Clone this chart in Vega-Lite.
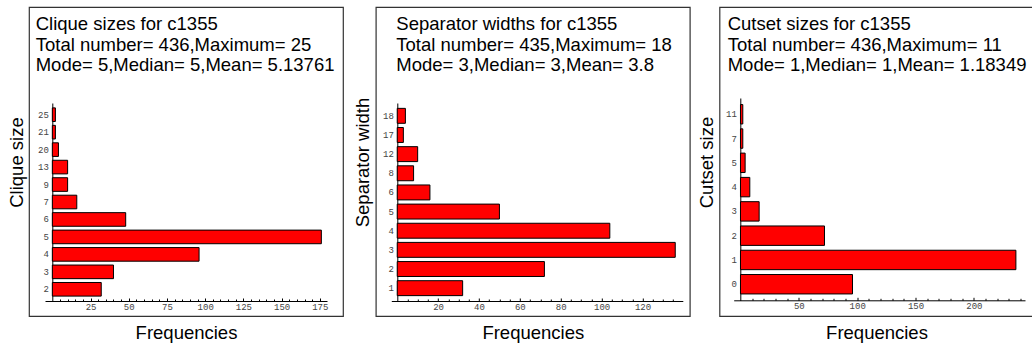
{
  "$schema": "https://vega.github.io/schema/vega-lite/v6.json",
  "background": "white",
  "padding": {"left": 6, "top": 6, "right": 0, "bottom": 0},
  "bounds": "flush",
  "spacing": 32.8,
  "config": {
    "view": {"stroke": "#333", "strokeWidth": 1.2},
    "axis": {"grid": false, "domainColor": "#000", "domainWidth": 1, "tickColor": "#000", "tickWidth": 1, "labelFont": "Liberation Mono", "labelColor": "#444", "labelFontSize": 9, "titleFont": "Liberation Sans", "titleFontSize": 18.5, "titleFontWeight": "normal", "titleColor": "#000"},
    "title": {"font": "Liberation Sans", "fontSize": 18.5, "fontWeight": "normal", "anchor": "start", "frame": "group", "baseline": "top", "offset": -68, "lineHeight": 20.7, "color": "#000"}
  },
  "hconcat": [
    {
      "width": 314, "height": 309,
      "title": {"text": ["Clique sizes for c1355", "Total number= 436,Maximum= 25", "Mode= 5,Median= 5,Mean= 5.13761"], "dx": 6.7},
      "data": {"values": [
        {"size": 2, "freq": 32}, {"size": 3, "freq": 40}, {"size": 4, "freq": 96}, {"size": 5, "freq": 176},
        {"size": 6, "freq": 48}, {"size": 7, "freq": 16}, {"size": 9, "freq": 10}, {"size": 13, "freq": 10},
        {"size": 20, "freq": 4}, {"size": 21, "freq": 2}, {"size": 25, "freq": 2}
      ]},
      "layer": [
        {
          "mark": {"type": "bar", "fill": "#ff0000", "stroke": "#000", "strokeWidth": 1},
          "encoding": {
            "y": {"field": "size", "type": "ordinal", "sort": "descending",
              "scale": {"range": [96, 294], "paddingInner": 0.22, "paddingOuter": 0.28},
              "axis": {"title": "Clique size", "offset": -23.3, "ticks": false, "labelPadding": 4, "titleX": -36.3, "titleY": 155, "titleAngle": -90, "titleBaseline": "middle", "titleAlign": "center"}},
            "x": {"field": "freq", "type": "quantitative",
              "scale": {"domain": [-4.8, 179.7], "range": [16, 298], "nice": false, "zero": false},
              "axis": {"title": "Frequencies", "values": [25, 50, 75, 100, 125, 150, 175], "offset": -15, "tickSize": -3, "labelPadding": 4, "titleX": 157, "titleY": 31.7, "titleBaseline": "middle", "titleAlign": "center"}}
          }
        },
        {
          "mark": {"type": "bar", "opacity": 0},
          "encoding": {
            "y": {"field": "size", "type": "ordinal", "sort": "descending"},
            "x": {"field": "freq", "type": "quantitative",
              "axis": {"orient": "bottom", "title": null, "labels": false, "domain": false, "offset": -15, "tickSize": -2,
                "values": [5, 10, 15, 20, 30, 35, 40, 45, 55, 60, 65, 70, 80, 85, 90, 95, 105, 110, 115, 120, 130, 135, 140, 145, 155, 160, 165, 170]}}
          }
        }
      ],
      "resolve": {"axis": {"x": "independent"}}
    },
    {
      "bounds": "flush",
      "spacing": 29.7,
      "hconcat": [
        {
          "width": 314, "height": 309,
          "title": {"text": ["Separator widths for c1355", "Total number= 435,Maximum= 18", "Mode= 3,Median= 3,Mean= 3.8"], "dx": 20.5},
          "data": {"values": [
            {"size": 1, "freq": 32}, {"size": 2, "freq": 72}, {"size": 3, "freq": 136}, {"size": 4, "freq": 104},
            {"size": 5, "freq": 50}, {"size": 6, "freq": 16}, {"size": 8, "freq": 8}, {"size": 12, "freq": 10},
            {"size": 17, "freq": 3}, {"size": 18, "freq": 4}
          ]},
          "layer": [
            {
              "mark": {"type": "bar", "fill": "#ff0000", "stroke": "#000", "strokeWidth": 1},
              "encoding": {
                "y": {"field": "size", "type": "ordinal", "sort": "descending",
                  "scale": {"range": [96, 294], "paddingInner": 0.22, "paddingOuter": 0.28},
                  "axis": {"title": "Separator width", "offset": -21.5, "ticks": false, "labelPadding": 4, "titleX": -34.5, "titleY": 155, "titleAngle": -90, "titleBaseline": "middle", "titleAlign": "center"}},
                "x": {"field": "freq", "type": "quantitative",
                  "scale": {"domain": [-2.9, 139.7], "range": [15.5, 307], "nice": false, "zero": false},
                  "axis": {"title": "Frequencies", "values": [20, 40, 60, 80, 100, 120], "offset": -15, "tickSize": -3, "labelPadding": 4, "titleX": 157, "titleY": 31.7, "titleBaseline": "middle", "titleAlign": "center"}}
              }
            },
            {
              "mark": {"type": "bar", "opacity": 0},
              "encoding": {
                "y": {"field": "size", "type": "ordinal", "sort": "descending"},
                "x": {"field": "freq", "type": "quantitative",
                  "axis": {"orient": "bottom", "title": null, "labels": false, "domain": false, "offset": -15, "tickSize": -2,
                    "values": [5, 10, 15, 25, 30, 35, 45, 50, 55, 65, 70, 75, 85, 90, 95, 105, 110, 115, 125, 130, 135]}}
              }
            }
          ],
          "resolve": {"axis": {"x": "independent"}}
        },
        {
          "width": 314, "height": 309,
          "title": {"text": ["Cutset sizes for c1355", "Total number= 436,Maximum= 11", "Mode= 1,Median= 1,Mean= 1.18349"], "dx": 8.2},
          "data": {"values": [
            {"size": 0, "freq": 96}, {"size": 1, "freq": 236}, {"size": 2, "freq": 72}, {"size": 3, "freq": 16},
            {"size": 4, "freq": 8}, {"size": 5, "freq": 4}, {"size": 7, "freq": 2}, {"size": 11, "freq": 2}
          ]},
          "layer": [
            {
              "mark": {"type": "bar", "fill": "#ff0000", "stroke": "#000", "strokeWidth": 1},
              "encoding": {
                "y": {"field": "size", "type": "ordinal", "sort": "descending",
                  "scale": {"range": [91, 293.5], "paddingInner": 0.2, "paddingOuter": 0.27},
                  "axis": {"title": "Cutset size", "offset": -20.8, "ticks": false, "labelPadding": 4, "titleX": -34, "titleY": 155, "titleAngle": -90, "titleBaseline": "middle", "titleAlign": "center"}},
                "x": {"field": "freq", "type": "quantitative",
                  "scale": {"domain": [-5.8, 243.8], "range": [14.2, 305.5], "nice": false, "zero": false},
                  "axis": {"title": "Frequencies", "values": [50, 100, 150, 200], "offset": -15.7, "tickSize": -3, "labelPadding": 4, "titleX": 157, "titleY": 32.4, "titleBaseline": "middle", "titleAlign": "center"}}
              }
            },
            {
              "mark": {"type": "bar", "opacity": 0},
              "encoding": {
                "y": {"field": "size", "type": "ordinal", "sort": "descending"},
                "x": {"field": "freq", "type": "quantitative",
                  "axis": {"orient": "bottom", "title": null, "labels": false, "domain": false, "offset": -15.7, "tickSize": -2,
                    "values": [10, 20, 30, 40, 60, 70, 80, 90, 110, 120, 130, 140, 160, 170, 180, 190, 210, 220, 230, 240]}}
              }
            }
          ],
          "resolve": {"axis": {"x": "independent"}}
        }
      ]
    }
  ]
}
